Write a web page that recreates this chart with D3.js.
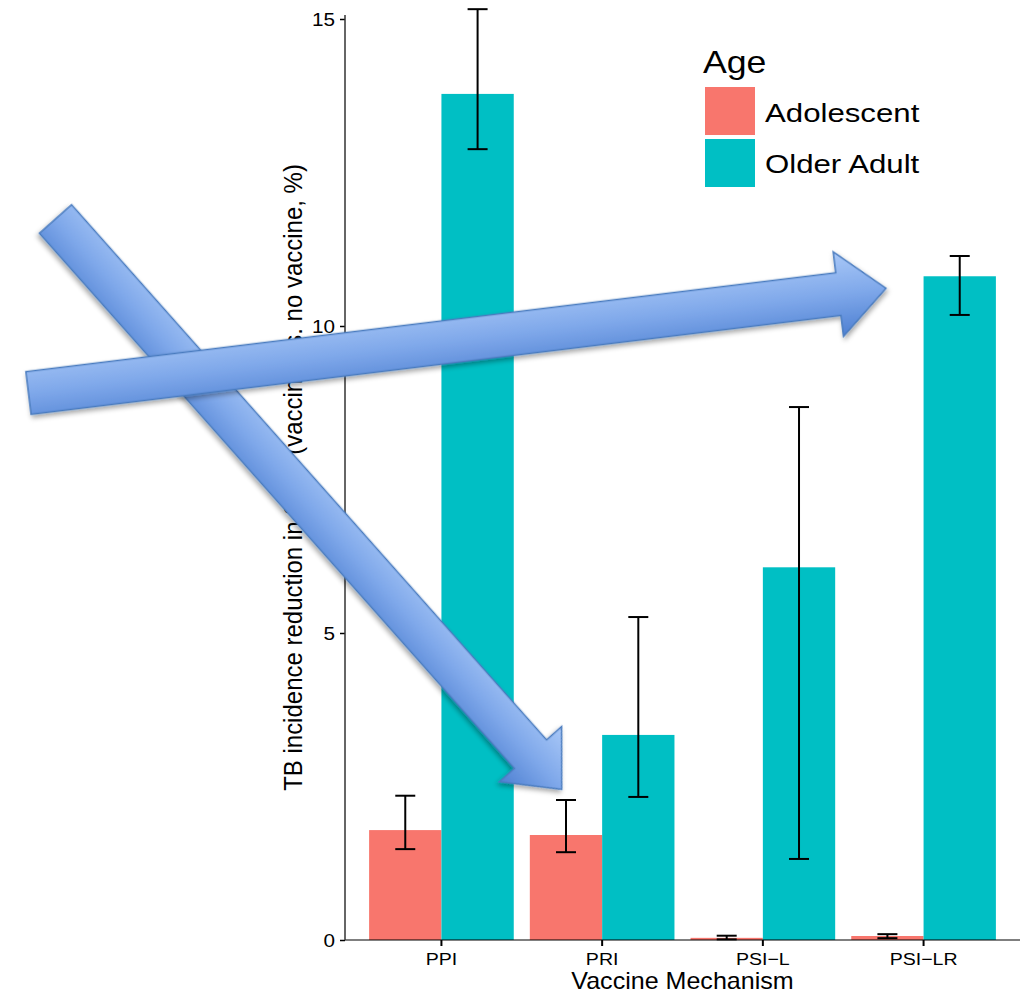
<!DOCTYPE html>
<html>
<head>
<meta charset="utf-8">
<script src="https://cdn.jsdelivr.net/npm/d3@7"></script>
<style>
  body { margin: 0; background: #fff; }
  svg { display: block; font-family: "Liberation Sans", Arial, Helvetica, sans-serif; }
</style>
</head>
<body>
<svg id="chart" width="1020" height="993"></svg>
<script>
// ---- data ----
const mechanisms = ["PPI", "PRI", "PSI\u2212L", "PSI\u2212LR"];
const ageGroups = ["Adolescent", "Older Adult"];
const adolescentMean = [1.79, 1.71, 0.035, 0.065];
const adolescentLow  = [1.48, 1.43, 0.01, 0.03];
const adolescentHigh = [2.35, 2.28, 0.07, 0.095];
const olderMean = [13.78, 3.34, 6.07, 10.81];
const olderLow  = [12.88, 2.33, 1.32, 10.18];
const olderHigh = [15.16, 5.26, 8.68, 11.14];
const yTicks = [0, 5, 10, 15];
const groupColors = ["#F8766D", "#00BFC4"];

const xTitle = "Vaccine Mechanism";
const yTitle = "TB incidence reduction in 2050 (vaccine vs. no vaccine, %)";
const legendTitle = "Age";

// rows for drawing
const rows = [];
mechanisms.forEach((m, i) => {
  rows.push({ mech: m, group: ageGroups[0], mean: adolescentMean[i], low: adolescentLow[i], high: adolescentHigh[i] });
  rows.push({ mech: m, group: ageGroups[1], mean: olderMean[i], low: olderLow[i], high: olderHigh[i] });
});

// ---- layout ----
const svg = d3.select("#chart");
const panel = { left: 345, right: 1020, top: 15, bottom: 940 };
const sx = 1.2; // horizontal text stretch

const x = d3.scaleBand().domain(mechanisms).range([panel.left, panel.right])
  .paddingInner(0.1).paddingOuter(0.15);
const xInner = d3.scaleBand().domain(ageGroups).range([0, x.bandwidth()]).padding(0);
const y = d3.scaleLinear().domain([0, 15]).range([940, 19]);
const color = d3.scaleOrdinal().domain(ageGroups).range(groupColors);

// bars
svg.append("g").selectAll("rect").data(rows).join("rect")
  .attr("x", d => x(d.mech) + xInner(d.group))
  .attr("width", xInner.bandwidth())
  .attr("y", d => y(d.mean))
  .attr("height", d => y(0) - y(d.mean))
  .attr("fill", d => color(d.group));

// error bars
const capW = 20;
const eb = svg.append("g").attr("stroke", "#000").attr("stroke-width", 2).attr("fill", "none");
rows.forEach(d => {
  const cx = x(d.mech) + xInner(d.group) + xInner.bandwidth() / 2;
  eb.append("line").attr("x1", cx).attr("x2", cx).attr("y1", y(d.low)).attr("y2", y(d.high));
  eb.append("line").attr("x1", cx - capW / 2).attr("x2", cx + capW / 2).attr("y1", y(d.low)).attr("y2", y(d.low));
  eb.append("line").attr("x1", cx - capW / 2).attr("x2", cx + capW / 2).attr("y1", y(d.high)).attr("y2", y(d.high));
});

// x axis line (drawn over bars)
svg.append("line")
  .attr("x1", panel.left).attr("x2", panel.right)
  .attr("y1", y(0)).attr("y2", y(0))
  .attr("stroke", "#000").attr("stroke-opacity", 0.5).attr("stroke-width", 2);

// y axis
const yAxis = d3.axisLeft(y).tickValues(yTicks).tickSize(5).tickPadding(0).tickFormat(d3.format("d"));
const yg = svg.append("g").attr("transform", `translate(${panel.left},0)`).call(yAxis);
yg.select(".domain").remove();
yg.selectAll(".tick line").attr("stroke", "#000").attr("stroke-width", 1.5);
yg.selectAll(".tick text").remove();
svg.append("line").attr("x1", panel.left).attr("x2", panel.left)
  .attr("y1", panel.top).attr("y2", y(0))
  .attr("stroke", "#333").attr("stroke-width", 1.5);
svg.append("g").selectAll("text").data(yTicks).join("text")
  .attr("transform", d => `translate(${panel.left - 10},${y(d) + 6.5}) scale(1.15,1)`)
  .attr("text-anchor", "end")
  .attr("font-size", 18)
  .attr("fill", "#000")
  .text(d => d);

// x axis ticks
const xAxis = d3.axisBottom(x).tickSize(6).tickFormat("");
const xg = svg.append("g").attr("transform", `translate(0,${y(0)})`).call(xAxis);
xg.select(".domain").remove();
xg.selectAll(".tick line").attr("stroke", "#000").attr("stroke-width", 2);
svg.append("g").selectAll("text").data(mechanisms).join("text")
  .attr("transform", d => `translate(${x(d) + x.bandwidth() / 2},965) scale(1.15,1)`)
  .attr("text-anchor", "middle")
  .attr("font-size", 17)
  .attr("fill", "#000")
  .text(d => d);

// axis titles
svg.append("text")
  .attr("transform", `translate(${(panel.left + panel.right) / 2},989) scale(1.09,1)`)
  .attr("text-anchor", "middle")
  .attr("font-size", 23)
  .attr("fill", "#000")
  .text(xTitle);

svg.append("text")
  .attr("transform", `translate(302,${(panel.top + y(0)) / 2}) scale(1.1,1) rotate(-90)`)
  .attr("text-anchor", "middle")
  .attr("font-size", 24)
  .attr("fill", "#000")
  .text(yTitle);

// legend
const legend = svg.append("g");
legend.append("text")
  .attr("transform", `translate(703,73) scale(1.15,1)`)
  .attr("font-size", 31)
  .attr("fill", "#000")
  .text(legendTitle);
ageGroups.forEach((g, i) => {
  legend.append("rect")
    .attr("x", 705).attr("y", 87 + i * 52)
    .attr("width", 50).attr("height", 48)
    .attr("fill", color(g));
  legend.append("text")
    .attr("transform", `translate(765,${122 + i * 51}) scale(${sx},1)`)
    .attr("font-size", 26)
    .attr("fill", "#000")
    .text(g);
});

// ---- annotation arrows ----
const defs = svg.append("defs");
const grad = defs.append("linearGradient").attr("id", "arrowFill")
  .attr("x1", 0).attr("y1", 0).attr("x2", 0).attr("y2", 1);
grad.append("stop").attr("offset", "0%").attr("stop-color", "#A9C8F7");
grad.append("stop").attr("offset", "50%").attr("stop-color", "#7FA8EA");
grad.append("stop").attr("offset", "100%").attr("stop-color", "#4E80D2");
const shadow = defs.append("filter").attr("id", "arrowShadow")
  .attr("x", "-20%").attr("y", "-20%").attr("width", "140%").attr("height", "140%");
shadow.append("feDropShadow").attr("dx", 1).attr("dy", 3).attr("stdDeviation", 2.5)
  .attr("flood-color", "#000").attr("flood-opacity", 0.35);

const arrows = [
  { tail: [55.5, 219], tip: [561.7, 789.3], shaft: 43, head: 83, headLen: 47 },
  { tail: [28.5, 393], tip: [886, 288.3], shaft: 43, head: 85, headLen: 48 }
];

arrows.forEach(a => {
  const dx = a.tip[0] - a.tail[0], dy = a.tip[1] - a.tail[1];
  const L = Math.hypot(dx, dy);
  const ang = Math.atan2(dy, dx) * 180 / Math.PI;
  const s = a.shaft / 2, h = a.head / 2, b = L - a.headLen;
  const pts = [[0, -s], [b, -s], [b, -h], [L, 0], [b, h], [b, s], [0, s]];
  svg.append("path")
    .attr("transform", `translate(${a.tail[0]},${a.tail[1]}) rotate(${ang})`)
    .attr("d", d3.line()(pts) + "Z")
    .attr("fill", "url(#arrowFill)")
    .attr("stroke", "#4A7CBF")
    .attr("stroke-width", 1.5)
    .attr("stroke-linejoin", "miter")
    .attr("filter", "url(#arrowShadow)");
});
</script>
</body>
</html>
